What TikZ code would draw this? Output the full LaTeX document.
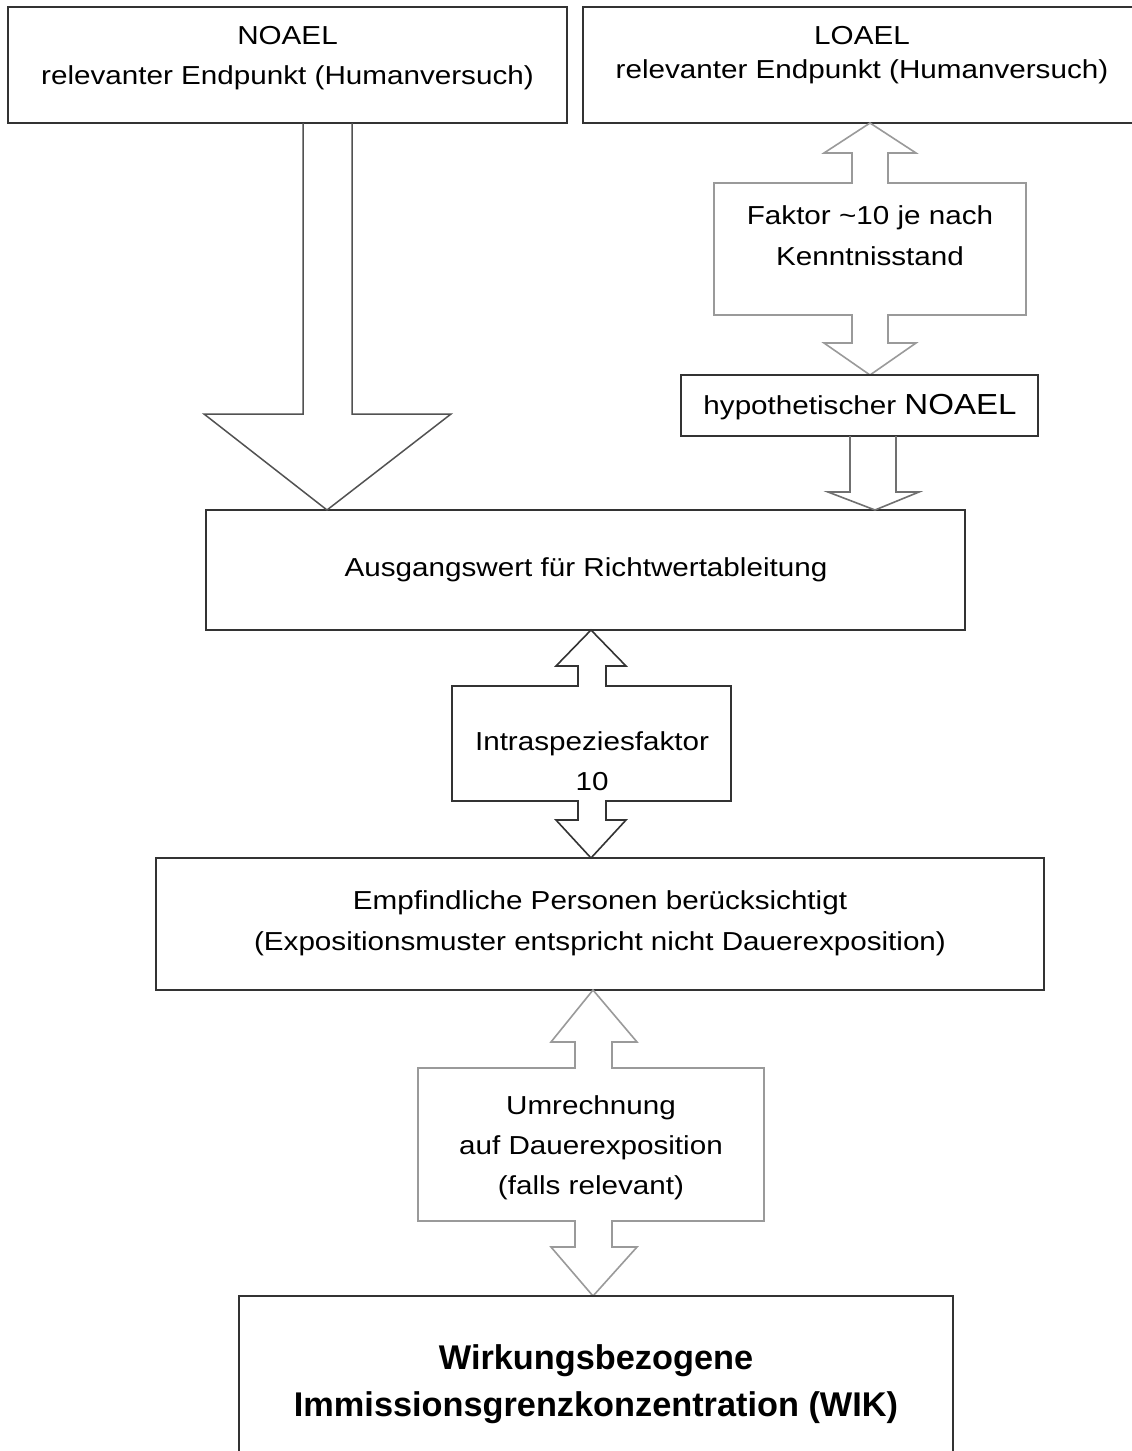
\documentclass[tikz,border=0pt]{standalone}
\usepackage{fontspec}
\setmainfont{Liberation Sans}
\newfontfamily\regfont{Liberation Sans}[FakeStretch=1.14]
\usetikzlibrary{calc}
\tikzset{
  box/.style={draw=boxline, line width=1.5pt, inner sep=0pt, anchor=center},
  txt/.style={align=center, inner sep=0pt, font=\regfont\fontsize{26}{40}\selectfont},
  bigarrow/.style={draw=boxline!85!white, line width=1.5pt, line join=miter},
  factorshape/.style={draw=factline, line width=1.6pt, line join=miter},
}
\definecolor{boxline}{HTML}{333333}
\definecolor{factline}{HTML}{9A9A9A}
\begin{document}
\begin{tikzpicture}[x=1pt,y=-1pt]
\useasboundingbox[fill=white] (0,0) rectangle (1132,1451);

% ---- top left box
\node[box, minimum width=559pt, minimum height=116pt] (noael) at (287.5,65) {};
\node[txt] (noaeltxt) at (287.5,58) {NOAEL\\relevanter Endpunkt (Humanversuch)};

% ---- top right box (open on the right)
\coordinate (loaelTL) at (583,7);
\coordinate (loaelBL) at (583,123);
\draw[draw=boxline, line width=1.5pt] (1132,7) -- (loaelTL) -- (loaelBL) -- (1132,123);
\node[txt, font=\regfont\fontsize{26}{34}\selectfont] (loael) at (862,55) {LOAEL\\relevanter Endpunkt (Humanversuch)};

% ---- factor shape right (double arrow with box)
\coordinate (fTop) at (870,123);
\draw[factorshape] (fTop) -- (916,153) -- (888,153) -- (888,183) -- (1026,183) -- (1026,315)
  -- (888,315) -- (888,343) -- (916,343) -- (870,375) -- (824,343) -- (852,343) -- (852,315)
  -- (714,315) -- (714,183) -- (852,183) -- (852,153) -- (824,153) -- cycle;
\node[txt, font=\regfont\fontsize{26}{41}\selectfont] (faktor) at (870,236) {Faktor \textasciitilde10 je nach\\Kenntnisstand};

% ---- hypothetical NOAEL
\node[box, minimum width=357pt, minimum height=61pt] (hypo) at (859.5,405.5) {};
\node[txt] (hypotxt) at (860,407) {hypothetischer {\fontsize{29}{34}\selectfont NOAEL}};

% ---- Ausgangswert box
\node[box, minimum width=759pt, minimum height=120pt] (ausg) at (585.5,570) {};
\node[txt] (ausgtxt) at (586,570) {Ausgangswert für Richtwertableitung};

% ---- arrow from hypothetical NOAEL to Ausgangswert
\draw[factorshape, draw=boxline!70!white] (850,436) -- (850,492) -- (828,492) -- (875,510) -- (919,492) -- (896,492) -- (896,436);

% ---- big left arrow
\draw[bigarrow] (303,123) -- (303,414) -- (204,414) -- (327,510) -- (451,414) -- (352,414) -- (352,123);

% ---- Intraspezies shape
\draw[factorshape, draw=boxline] (591,630) -- (626,666) -- (606,666) -- (606,686) -- (731,686) -- (731,801)
  -- (606,801) -- (606,820) -- (626,820) -- (591,858) -- (556,820) -- (578,820) -- (578,801)
  -- (452,801) -- (452,686) -- (578,686) -- (578,666) -- (556,666) -- cycle;
\node[txt] (intra) at (592,761) {Intraspeziesfaktor\\10};

% ---- Empfindliche Personen box
\node[box, minimum width=888pt, minimum height=132pt] (empf) at (600,924) {};
\node[txt, font=\regfont\fontsize{26}{41}\selectfont] (empftxt) at (600,923.5) {Empfindliche Personen berücksichtigt\\(Expositionsmuster entspricht nicht Dauerexposition)};

% ---- Umrechnung shape
\draw[factorshape] (593,990) -- (637,1042) -- (612,1042) -- (612,1068) -- (764,1068) -- (764,1221)
  -- (612,1221) -- (612,1247) -- (637,1247) -- (593,1296) -- (551,1247) -- (575,1247) -- (575,1221)
  -- (418,1221) -- (418,1068) -- (575,1068) -- (575,1042) -- (551,1042) -- cycle;
\node[txt] (umr) at (591,1148) {Umrechnung\\auf Dauerexposition\\(falls relevant)};

% ---- WIK box (open at the bottom)
\draw[draw=boxline, line width=1.5pt] (239,1451) -- (239,1296) -- (953,1296) -- (953,1451);
\node[align=center, inner sep=0pt, font=\bfseries\fontsize{34.3}{47}\selectfont] (wik) at (596,1384) {Wirkungsbezogene\\Immissionsgrenzkonzentration (WIK)};
\end{tikzpicture}
\end{document}
